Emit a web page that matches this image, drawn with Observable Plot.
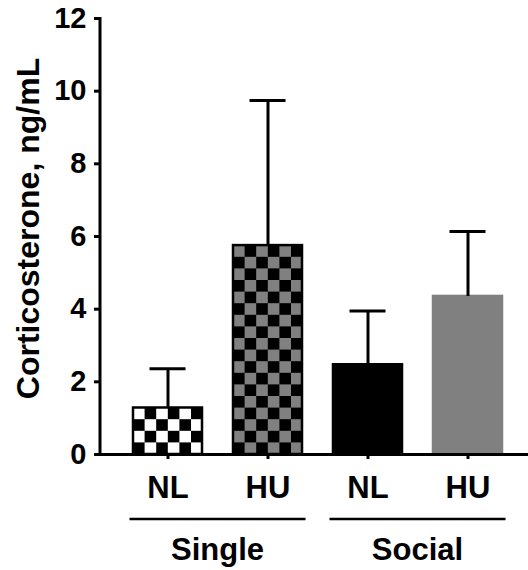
<!DOCTYPE html>
<html><head><meta charset="utf-8">
<script src="https://cdn.jsdelivr.net/npm/d3@7"></script>
<script src="https://cdn.jsdelivr.net/npm/@observablehq/plot@0.6"></script>
<style>body{margin:0;background:#fff;} svg{display:block;}</style>
</head><body><div id="chart"></div>
<script>
// ---- data ----
const groups = ["Single", "Single", "Social", "Social"];
const conditions = ["NL", "HU", "NL", "HU"];
const means = [1.28, 5.75, 2.47, 4.35];
const errTops = [2.36, 9.74, 3.95, 6.14];
const fills = ["url(#pat-single-nl)", "url(#pat-single-hu)", "#000000", "#808080"];
const strokes = ["#000000", "#000000", "#000000", "#808080"];
const yTicks = [0, 2, 4, 6, 8, 10, 12];
const yLabel = "Corticosterone, ng/mL";
const groupNames = ["Single", "Social"];

const data = groups.map((g, i) => ({
  key: g + " " + conditions[i], group: g, cond: conditions[i],
  mean: means[i], top: errTops[i], fill: fills[i], stroke: strokes[i]
}));

const NS = "http://www.w3.org/2000/svg";
const bwOf = (x) => typeof x.bandwidth === "function" ? x.bandwidth() : x.bandwidth;
const stepOf = (x) => typeof x.step === "function" ? x.step() : (x.step ?? bwOf(x) / 0.69);

function patterns(index, scales) {
  const defs = document.createElementNS(NS, "defs");
  const s = 11.6;
  const specs = [
    {id: "pat-single-nl", key: "Single NL", a: "#000000", b: "#ffffff"},
    {id: "pat-single-hu", key: "Single HU", a: "#000000", b: "#808080"}
  ];
  for (const sp of specs) {
    const p = document.createElementNS(NS, "pattern");
    p.setAttribute("id", sp.id);
    p.setAttribute("patternUnits", "userSpaceOnUse");
    p.setAttribute("width", 2 * s);
    p.setAttribute("height", 2 * s);
    p.setAttribute("x", scales.x(sp.key));
    p.setAttribute("y", scales.y(0));
    const mk = (x, y, w, h, f) => {
      const r = document.createElementNS(NS, "rect");
      r.setAttribute("x", x); r.setAttribute("y", y);
      r.setAttribute("width", w); r.setAttribute("height", h);
      r.setAttribute("fill", f);
      p.appendChild(r);
    };
    mk(0, 0, 2 * s, 2 * s, sp.b);
    mk(s, 0, s, s, sp.a);
    mk(0, s, s, s, sp.a);
    defs.appendChild(p);
  }
  return defs;
}

function yAxisLine(index, scales, values, dims) {
  const l = document.createElementNS(NS, "line");
  l.setAttribute("x1", dims.marginLeft); l.setAttribute("x2", dims.marginLeft);
  l.setAttribute("y1", scales.y(12) - 1); l.setAttribute("y2", scales.y(0) + 1.5);
  l.setAttribute("stroke", "#000"); l.setAttribute("stroke-width", 3);
  return l;
}

function groupBrackets(index, scales) {
  const g = document.createElementNS(NS, "g");
  const x = scales.x, bw = bwOf(x), step = stepOf(x);
  const y0 = scales.y(0);
  for (const grp of groupNames) {
    const keys = data.filter(d => d.group === grp).map(d => d.key);
    const c0 = x(keys[0]) + bw / 2, c1 = x(keys[keys.length - 1]) + bw / 2;
    const pad = 0.38 * step;
    const l = document.createElementNS(NS, "line");
    l.setAttribute("x1", c0 - pad); l.setAttribute("x2", c1 + pad);
    l.setAttribute("y1", y0 + 65); l.setAttribute("y2", y0 + 65);
    l.setAttribute("stroke", "#000"); l.setAttribute("stroke-width", 2.5);
    g.appendChild(l);
    const t = document.createElementNS(NS, "text");
    t.setAttribute("x", (c0 + c1) / 2); t.setAttribute("y", y0 + 106);
    t.setAttribute("text-anchor", "middle");
    t.setAttribute("font-size", 31); t.setAttribute("font-weight", "bold");
    t.setAttribute("fill", "#000");
    t.textContent = grp;
    g.appendChild(t);
  }
  return g;
}

const chart = Plot.plot({
  width: 528, height: 570,
  marginTop: 18, marginBottom: 116, marginLeft: 100, marginRight: 0,
  style: {fontFamily: "'Liberation Sans', Arial, sans-serif", color: "#000", background: "#fff", overflow: "visible"},
  x: {domain: data.map(d => d.key), range: [100.8, 534.7], paddingInner: 0.31, paddingOuter: 0.31},
  y: {domain: [0, 12]},
  color: {type: "identity"},
  marks: [
    patterns,
    Plot.barY(data, {x: "key", y: "mean", fill: "fill", stroke: "stroke", strokeWidth: 2.5}),
    Plot.ruleX(data, {x: "key", y1: "mean", y2: "top", strokeWidth: 3}),
    Plot.tickY(data, {x: "key", y: "top", strokeWidth: 3, insetLeft: 16.5, insetRight: 16.5}),
    Plot.ruleY([0], {strokeWidth: 3}),
    yAxisLine,
    Plot.axisY({ticks: yTicks, tickSize: 6, tickPadding: 8, fontSize: 29, fontWeight: "bold", strokeWidth: 3, tickFormat: d => String(d), label: null}),
    Plot.axisX({tickSize: 5, tickPadding: 16, fontSize: 31, fontWeight: "bold", strokeWidth: 3, tickFormat: k => k.split(" ")[1], label: null}),
    Plot.text([yLabel], {text: d => d, frameAnchor: "left", rotate: -90, dx: -72, dy: -8, fontSize: 32, fontWeight: "bold", lineAnchor: "middle", textAnchor: "middle"}),
    groupBrackets
  ]
});
document.getElementById("chart").appendChild(chart);
</script>
</body></html>
